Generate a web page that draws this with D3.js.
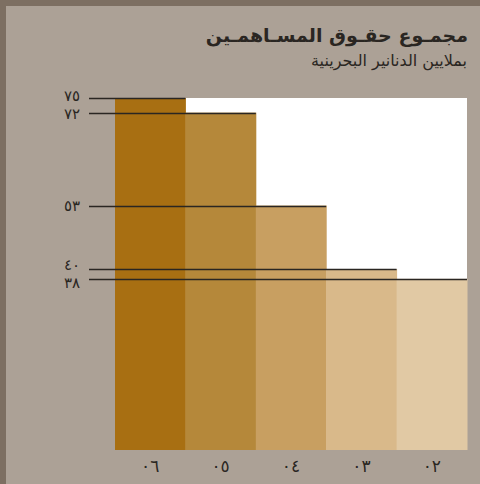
<!DOCTYPE html>
<html><head><meta charset="utf-8">
<script src="https://cdn.jsdelivr.net/npm/d3@7"></script>
<style>html,body{margin:0;padding:0;background:#aca196;}svg{display:block;}</style>
</head><body>
<script>
const years = ["٠٦","٠٥","٠٤","٠٣","٠٢"];
const values = [75, 72, 53, 40, 38];
const valueLabels = ["٧٥","٧٢","٥٣","٤٠","٣٨"];
const colors = ["#a86f12","#b5883a","#c89f61","#d9b98a","#e1c9a4"];
const title = "مجمـوع حقـوق المسـاهمـين";
const subtitle = "بملايين الدنانير البحرينية";

const W = 480, H = 484;
const svg = d3.select("body").append("svg").attr("width", W).attr("height", H);
svg.append("rect").attr("width", W).attr("height", H).attr("fill", "#7d6f62");
svg.append("rect").attr("x", 6).attr("y", 6).attr("width", W - 6).attr("height", H - 6).attr("fill", "#aca196");

const plot = {left: 115, right: 467, top: 98, bottom: 450};
const x = d3.scaleBand().domain(years).range([plot.left, plot.right]).padding(0);
const y = d3.scaleLinear().domain([3, 75]).range([plot.bottom, plot.top]);

svg.append("rect").attr("x", plot.left).attr("y", plot.top)
  .attr("width", plot.right - plot.left).attr("height", plot.bottom - plot.top).attr("fill", "#ffffff");

svg.selectAll("rect.bar").data(values).enter().append("rect").attr("class", "bar")
  .attr("x", (d, i) => x(years[i]))
  .attr("y", d => y(d))
  .attr("width", x.bandwidth() + 0.5)
  .attr("height", d => plot.bottom - y(d))
  .attr("fill", (d, i) => colors[i]);

svg.selectAll("line.ref").data(values).enter().append("line").attr("class", "ref")
  .attr("x1", 89).attr("x2", (d, i) => x(years[i]) + x.bandwidth())
  .attr("y1", d => Math.round(y(d)) + 0.5).attr("y2", d => Math.round(y(d)) + 0.5)
  .attr("stroke", "#2a2622").attr("stroke-width", 1.3);

// label positions with simple collision avoidance
const minGap = 18;
const pos = values.map(v => y(v));
for (let iter = 0; iter < 6; iter++) {
  for (let i = 0; i < pos.length - 1; i++) {
    const gap = pos[i + 1] - pos[i];
    if (gap < minGap) {
      const shift = (minGap - gap) / 2;
      pos[i] -= shift; pos[i + 1] += shift;
    }
  }
}

svg.selectAll("text.yl").data(values).enter().append("text").attr("class", "yl")
  .attr("x", 80).attr("y", (d, i) => pos[i] + 5)
  .attr("text-anchor", "end")
  .attr("font-family", "DejaVu Sans").attr("font-size", 15).attr("fill", "#2a2622")
  .text((d, i) => valueLabels[i]);

svg.selectAll("text.xl").data(years).enter().append("text").attr("class", "xl")
  .attr("x", d => x(d) + x.bandwidth() / 2).attr("y", 472)
  .attr("text-anchor", "middle")
  .attr("font-family", "DejaVu Sans").attr("font-size", 17).attr("fill", "#2a2622")
  .text(d => d);

svg.append("text").attr("x", 468).attr("y", 42).attr("text-anchor", "end")
  .attr("font-family", "DejaVu Sans").attr("font-weight", "bold").attr("font-size", 19).attr("fill", "#2a2622")
  .text(title);
svg.append("text").attr("x", 467).attr("y", 66).attr("text-anchor", "end")
  .attr("font-family", "DejaVu Sans").attr("font-size", 16).attr("fill", "#2a2622")
  .text(subtitle);
</script>
</body></html>
